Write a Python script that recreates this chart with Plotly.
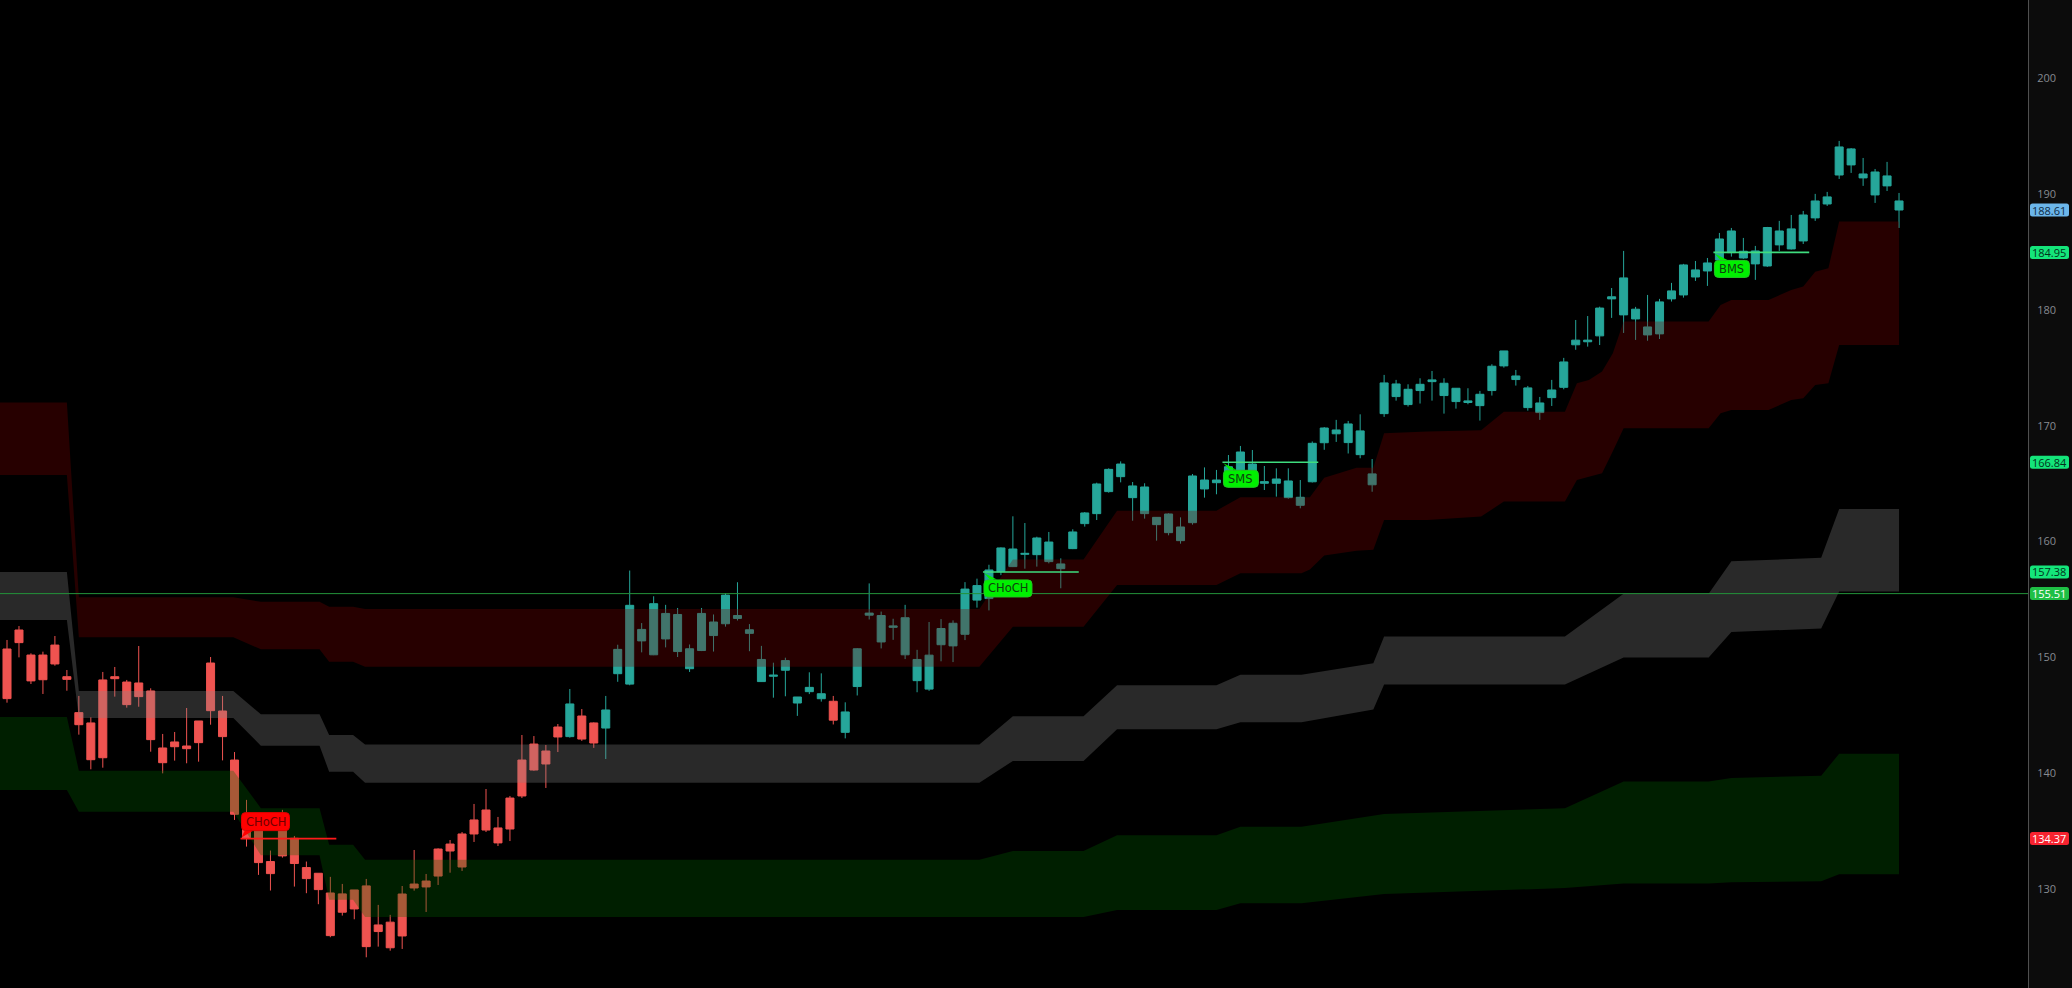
import plotly.graph_objects as go

# ---------------- data ----------------
opens = [150.73,152.37,150.21,150.21,151.07,148.34,145.24,144.35,148.06,148.34,
         147.88,147.80,147.11,142.19,142.71,142.36,144.52,149.52,145.38,141.15,
         135.80,135.12,132.39,135.12,134.40,131.87,131.38,129.68,129.60,129.94,
         130.29,126.92,127.16,129.59,130.45,130.71,133.47,133.90,134.77,135.98,
         136.84,135.29,137.87,141.15,142.53,141.93,144.00,143.17,144.95,144.35,
         143.91,148.60,147.70,151.43,150.23,151.60,150.51,149.03,150.60,151.89,
         152.91,153.37,152.08,147.92,148.38,148.90,146.07,147.05,146.44,146.22,
         143.54,147.49,153.65,151.34,152.60,150.23,148.00,147.27,151.10,151.00,
         152.00,154.95,155.08,157.40,157.84,158.90,158.87,158.27,157.66,159.39,
         161.55,162.41,164.31,165.60,163.79,162.41,161.46,160.77,160.08,161.63,
         164.54,165.08,165.95,166.18,166.03,165.03,165.03,163.79,163.13,165.16,
         168.53,169.30,168.54,167.50,164.90,171.04,172.51,171.82,173.03,173.80,
         172.60,172.08,172.00,171.73,173.03,175.16,173.98,171.56,171.13,172.42,
         173.31,176.98,177.24,177.75,180.94,179.56,179.21,177.83,177.92,180.94,
         181.28,182.83,183.35,184.30,184.93,184.47,183.96,183.78,185.60,185.25,
         185.94,187.93,189.13,191.63,192.50,191.38,189.91,190.69,188.61]
highs = [151.51,152.71,150.36,150.50,151.85,148.92,146.68,144.83,148.75,149.18,
         148.06,150.99,147.34,143.40,143.57,145.64,144.52,150.04,146.68,141.84,
         137.71,135.26,133.34,136.85,134.60,132.39,131.38,131.07,130.46,129.94,
         130.89,128.65,127.79,130.28,133.39,131.32,133.53,134.25,134.94,137.36,
         138.65,136.24,138.05,143.31,143.22,142.45,144.26,147.28,145.55,144.40,
         146.68,151.10,157.50,152.97,155.28,154.54,154.27,151.12,154.27,153.71,
         155.56,156.49,152.88,151.00,149.55,149.98,146.59,148.72,148.63,146.68,
         146.13,150.81,156.39,153.96,153.34,154.54,150.66,153.06,153.31,153.20,
         156.50,156.80,158.00,159.50,162.18,161.60,160.42,160.83,158.55,161.06,
         162.55,165.08,166.32,166.92,165.14,165.03,162.12,162.44,162.09,165.83,
         166.40,166.18,167.47,168.25,167.90,166.52,166.32,166.32,165.31,168.64,
         169.88,170.50,170.41,170.98,167.12,174.38,173.95,173.57,174.09,174.72,
         174.09,173.23,173.23,173.00,175.30,176.45,174.81,173.43,172.48,173.95,
         175.85,179.12,179.46,180.27,181.88,185.08,180.25,181.28,180.94,182.32,
         183.96,184.21,184.47,186.63,187.06,186.20,185.51,187.15,187.67,188.18,
         188.53,190.00,190.17,194.57,193.96,193.10,192.15,192.76,190.08]
lows = [146.10,150.01,147.71,146.85,149.29,147.13,143.34,140.35,140.49,146.62,
        145.67,145.75,141.87,140.00,141.10,140.87,141.01,144.20,141.12,135.98,
        133.68,131.24,129.89,132.73,130.23,129.66,128.71,125.86,127.73,127.41,
        124.13,125.05,124.70,124.85,129.88,128.04,130.37,131.43,131.58,134.08,
        134.94,133.73,134.16,137.87,140.23,138.74,141.84,143.08,142.80,142.20,
        141.24,147.90,147.60,150.44,150.20,150.87,150.04,148.75,150.55,150.51,
        152.66,153.19,150.54,147.89,146.53,146.65,144.96,146.84,146.19,144.22,
        143.02,146.72,153.28,150.78,151.52,149.86,147.00,147.12,149.67,149.60,
        151.50,154.30,154.06,157.10,157.80,157.66,157.84,158.12,155.97,159.35,
        161.29,161.86,164.22,165.11,161.80,161.98,160.08,160.54,159.82,161.46,
        163.79,164.08,165.60,166.00,165.50,164.45,163.88,163.70,162.87,165.10,
        167.92,168.60,167.60,167.19,164.30,170.76,172.16,171.65,171.91,172.16,
        171.04,171.47,171.85,170.44,172.60,175.01,173.46,171.30,170.50,171.70,
        173.14,176.55,176.82,176.96,179.30,178.00,177.40,177.33,177.48,180.71,
        181.05,182.49,182.06,184.16,184.59,184.40,182.58,183.70,185.08,185.20,
        185.68,187.67,188.96,191.29,191.81,190.69,189.22,190.25,187.06]
closes = [146.45,151.28,147.98,148.08,149.44,148.11,144.20,141.18,141.35,148.17,
          145.93,146.62,142.91,140.92,142.30,142.13,142.65,145.41,143.17,136.47,
          134.40,132.30,131.35,132.88,132.22,130.92,129.97,126.00,128.02,128.30,
          125.05,126.35,124.95,125.97,130.11,130.20,131.14,133.30,131.92,134.77,
          135.11,134.00,135.20,138.05,140.29,140.81,143.14,145.99,142.96,142.62,
          145.47,150.70,154.50,152.42,154.64,153.80,153.71,150.75,153.80,153.06,
          155.38,153.62,152.39,149.83,148.47,149.73,146.59,147.42,146.87,144.59,
          145.30,150.75,153.83,153.62,152.72,153.43,149.83,150.20,152.50,152.95,
          155.90,156.20,157.55,159.45,159.36,158.98,160.31,159.96,158.07,160.83,
          162.47,164.97,166.23,166.69,164.80,164.71,162.09,162.38,161.26,165.66,
          165.31,165.31,166.46,167.73,166.69,165.17,165.40,165.23,163.82,168.48,
          169.80,169.63,170.15,169.55,165.84,173.69,173.60,173.14,173.57,173.95,
          173.66,173.23,172.14,172.71,175.13,176.45,174.29,173.26,171.96,173.08,
          175.50,177.38,177.38,180.15,181.12,182.75,180.05,178.52,180.68,181.63,
          183.87,183.44,184.04,186.11,186.80,185.05,185.08,187.10,186.80,186.98,
          188.18,189.39,189.74,194.05,193.88,191.72,191.89,191.55,189.39]
bar_index = list(range(len(opens)))

# premium (red) zone outline knots
red_x   = [-0.6, 5.0, 6.0, 18.9, 21.2, 26.1, 26.9, 28.9, 29.9, 81.2, 84.0, 89.9, 92.7, 101.0,
           103.0, 108.1, 108.8, 110.0, 112.7, 114.1, 115.0, 118.6, 123.1, 125.0, 130.1, 131.1,
           132.1, 133.2, 134.1, 135.0, 142.1, 143.1, 144.0, 147.1, 149.0, 150.0, 151.0, 152.1,
           153.0, 158.0]
red_top = [172.0, 172.0, 155.19, 155.19, 154.8, 154.8, 154.38, 154.38, 154.18, 154.18, 158.45,
           158.45, 162.67, 162.67, 163.82, 163.82, 163.82, 165.5, 166.38, 166.38, 169.35, 169.5,
           169.6, 171.2, 171.2, 173.66, 173.95, 174.67, 176.25, 178.98, 178.98, 180.42, 180.85,
           180.85, 181.71, 182.0, 183.29, 183.58, 187.61, 187.61]
red_bot = [165.74, 165.74, 151.74, 151.74, 150.7, 150.7, 149.64, 149.64, 149.2, 149.2, 152.65,
           152.65, 156.25, 156.25, 157.26, 157.26, 157.6, 158.8, 159.2, 159.3, 161.87, 161.87,
           162.16, 163.45, 163.45, 165.32, 165.6, 165.9, 167.8, 169.78, 169.78, 171.07, 171.36,
           171.36, 172.22, 172.37, 173.51, 173.66, 176.97, 176.97]

# equilibrium (gray) zone outline knots
gray_x   = [-0.6, 5.0, 6.0, 18.9, 21.2, 26.1, 26.9, 28.9, 29.9, 81.2, 84.0, 89.9, 92.7, 101.0,
            103.0, 108.1, 114.1, 115.0, 130.1, 135.0, 142.1, 144.0, 151.5, 153.0, 158.0]
gray_top = [157.37, 157.37, 147.1, 147.1, 145.09, 145.09, 143.31, 143.31, 142.5, 142.5, 144.93,
            144.93, 147.6, 147.6, 148.5, 148.5, 149.5, 151.8, 151.8, 155.5, 155.5, 158.3, 158.6,
            162.8, 162.8]
gray_bot = [153.23, 153.23, 144.78, 144.78, 142.39, 142.39, 140.15, 140.15, 139.2, 139.2, 141.07,
            141.07, 143.8, 143.8, 144.4, 144.4, 145.5, 147.67, 147.67, 150.0, 150.0, 152.2, 152.5,
            155.7, 155.7]

# discount (green) zone outline knots
green_x   = [-0.6, 5.0, 6.0, 18.9, 21.2, 26.1, 26.9, 28.9, 29.9, 81.2, 84.0, 89.9, 92.7, 101.0,
             103.0, 108.1, 115.0, 130.1, 135.0, 142.1, 144.0, 151.5, 153.0, 158.0]
green_top = [144.86, 144.86, 140.23, 140.23, 137.0, 137.0, 133.83, 133.83, 132.55, 132.55, 133.3,
             133.3, 134.66, 134.66, 135.4, 135.4, 136.5, 137.0, 139.3, 139.3, 139.6, 139.8, 141.7,
             141.7]
green_bot = [138.56, 138.56, 136.69, 136.69, 132.93, 132.93, 129.1, 129.1, 127.6, 127.6, 127.6,
             127.6, 128.2, 128.2, 128.8, 128.8, 129.6, 130.1, 130.5, 130.5, 130.6, 130.7, 131.3,
             131.3]

# market-structure breaks
struct_text  = ["CHoCH", "CHoCH", "SMS", "BMS"]
struct_level = [134.37, 157.38, 166.84, 184.95]
struct_start = [19.5, 81.5, 101.5, 142.5]
struct_end   = [27.5, 89.5, 109.5, 150.5]
struct_bull  = [False, True, True, True]

equilibrium_level = 155.51

axis_prices = [188.61, 184.95, 166.84, 157.38, 155.51, 134.37]
axis_bg     = ["#6cb6ea", "#14e57a", "#14e57a", "#14e57a", "#1fbf45", "#f7232f"]
axis_fg     = ["#0e2a44", "#02311a", "#02311a", "#02311a", "#ffffff", "#ffffff"]

y_ticks = [130, 140, 150, 160, 170, 180, 190, 200]

# ---------------- figure ----------------
W, H = 2072, 988
PLOT_W = 2028
X_RANGE = [-0.585, 168.77]
Y_RANGE = [121.48, 206.73]
px_x = (X_RANGE[1] - X_RANGE[0]) / PLOT_W   # data units per pixel
px_y = (Y_RANGE[1] - Y_RANGE[0]) / H

fig = go.Figure()

fig.add_trace(go.Candlestick(
    x=bar_index, open=opens, high=highs, low=lows, close=closes,
    increasing=dict(line=dict(color="#26a69a", width=1), fillcolor="#26a69a"),
    decreasing=dict(line=dict(color="#ef5350", width=1), fillcolor="#ef5350"),
    whiskerwidth=0, hoverinfo="skip", showlegend=False))

def band(xs, lo, hi, color):
    fig.add_trace(go.Scatter(x=xs, y=lo, mode="lines", line=dict(width=0),
                             hoverinfo="skip", showlegend=False))
    fig.add_trace(go.Scatter(x=xs, y=hi, mode="lines", line=dict(width=0),
                             fill="tonexty", fillcolor=color,
                             hoverinfo="skip", showlegend=False))

band(red_x, red_bot, red_top, "rgba(128,0,0,0.30)")
band(gray_x, gray_bot, gray_top, "rgba(136,136,136,0.30)")
band(green_x, green_bot, green_top, "rgba(0,102,0,0.30)")

shapes = []
annotations = []

# equilibrium line across the chart
shapes.append(dict(type="line", xref="paper", yref="y", x0=0, x1=1,
                   y0=equilibrium_level, y1=equilibrium_level,
                   line=dict(color="#23923a", width=1), layer="above"))

def rrect_path(x0, x1, y0, y1, rx, ry):
    return (f"M{x0+rx},{y0} L{x1-rx},{y0} Q{x1},{y0} {x1},{y0+ry} "
            f"L{x1},{y1-ry} Q{x1},{y1} {x1-rx},{y1} L{x0+rx},{y1} "
            f"Q{x0},{y1} {x0},{y1-ry} L{x0},{y0+ry} Q{x0},{y0} {x0+rx},{y0} Z")

for txt, lvl, xs, xe, bull in zip(struct_text, struct_level, struct_start, struct_end, struct_bull):
    lc = "#3fdc7e" if bull else "#ff1a1a"
    fig.add_trace(go.Scatter(x=[xs, xe], y=[lvl, lvl], mode="lines",
                             line=dict(color=lc, width=1.6), hoverinfo="skip", showlegend=False))
    wpx = 48 if txt == "CHoCH" else 35
    hpx = 17
    bx0 = xs + 1 * px_x
    bx1 = bx0 + wpx * px_x
    if bull:
        by1 = lvl - 8 * px_y
        by0 = by1 - hpx * px_y
        tail = f"M{xs+1*px_x},{lvl-1*px_y} L{xs+7*px_x},{by1+0.5*px_y} L{xs+14*px_x},{by1+0.5*px_y} Z"
        fill, edge, tc = "#00f000", "#22c822", "#0f3f0f"
    else:
        by0 = lvl + 8 * px_y
        by1 = by0 + (hpx + 1) * px_y
        tail = f"M{xs+1*px_x},{lvl+1*px_y} L{xs+4*px_x},{by0-0.5*px_y} L{xs+12*px_x},{by0-0.5*px_y} Z"
        fill, edge, tc = "#ff0000", "#e00000", "#6e0000"
    shapes.append(dict(type="path", xref="x", yref="y", path=tail,
                       fillcolor=fill, line=dict(width=0), layer="above"))
    shapes.append(dict(type="path", xref="x", yref="y",
                       path=rrect_path(bx0, bx1, by0, by1, 4 * px_x, 4 * px_y),
                       fillcolor=fill, line=dict(color=edge, width=1), layer="above"))
    annotations.append(dict(x=(bx0 + bx1) / 2, y=(by0 + by1) / 2, xref="x", yref="y",
                            text=txt, showarrow=False,
                            font=dict(family="DejaVu Sans", size=11.5, color=tc),
                            xanchor="center", yanchor="middle"))

# price labels on the axis
for p, bg, fg in zip(axis_prices, axis_bg, axis_fg):
    x0 = 2030 / PLOT_W
    x1 = 2069 / PLOT_W
    shapes.append(dict(type="path", xref="paper", yref="y",
                       path=rrect_path(x0, x1, p - 6.5 * px_y, p + 6.5 * px_y,
                                       2.5 / PLOT_W, 2.5 * px_y),
                       fillcolor=bg, line=dict(width=0), layer="above"))
    annotations.append(dict(x=(x0 + x1) / 2, y=p, xref="paper", yref="y",
                            text=f"{p:.2f}", showarrow=False,
                            font=dict(family="Open Sans", size=11, color=fg),
                            xanchor="center", yanchor="middle"))

fig.update_layout(
    width=W, height=H,
    margin=dict(l=0, r=W - PLOT_W, t=0, b=0, pad=0),
    paper_bgcolor="#0c0c0c", plot_bgcolor="#000000",
    showlegend=False, boxgap=0.33, boxgroupgap=0,
    xaxis=dict(range=X_RANGE, visible=False, showgrid=False, zeroline=False,
               rangeslider=dict(visible=False), fixedrange=True),
    yaxis=dict(range=Y_RANGE, side="right", tickvals=y_ticks,
               showgrid=False, zeroline=False, showline=True, linecolor="#4f4f4f",
               linewidth=1, ticks="", ticklabelstandoff=6,
               tickfont=dict(family="Open Sans", size=11, color="#878a90"),
               fixedrange=True),
    shapes=shapes, annotations=annotations,
    hovermode=False,
)

fig.write_html("out.html", config={"displayModeBar": False},
               post_script="document.body.style.margin='0px';document.body.style.overflow='hidden';")
